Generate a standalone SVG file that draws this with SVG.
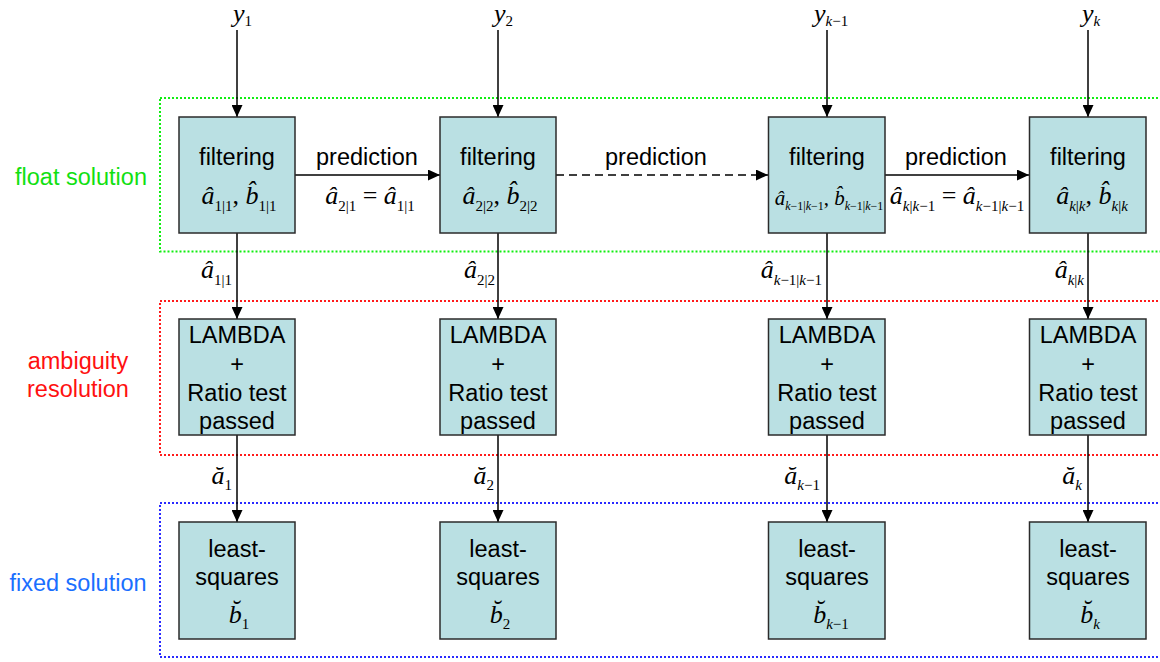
<svg xmlns="http://www.w3.org/2000/svg" width="1160" height="662" viewBox="0 0 1160 662">
<style>
.box{fill:#bae0e3;stroke:#2b2b2b;stroke-width:1.5}
.t{font-family:"Liberation Sans",Arial,sans-serif;font-size:23.5px;fill:#000;text-anchor:middle}
.m{font-family:"Liberation Serif","Times New Roman",serif;font-size:26px;fill:#000}
.sm{font-size:21px}
.mid{text-anchor:middle}
.end{text-anchor:end}
.i{font-style:italic}
.s{font-size:15px;font-style:normal}
.s2{font-size:12px;font-style:normal}
.ln{stroke:#000;stroke-width:1.5;fill:none}
.dash{stroke-dasharray:8 5}
.zone{fill:none;stroke-width:2;stroke-dasharray:2 2}
.lab{font-family:"Liberation Sans",Arial,sans-serif;font-size:23.5px;text-anchor:middle}
</style>
<defs>
<marker id="ah" markerUnits="userSpaceOnUse" markerWidth="12" markerHeight="11" refX="12" refY="5.5" orient="auto">
<path d="M0,0 L12,5.5 L0,11 z" fill="#000"/>
</marker>
</defs>
<rect width="1160" height="662" fill="#fff"/>

<g id="zones">
<rect class="zone" x="160" y="98" width="1010" height="153.5" stroke="#11ee11"/>
<rect class="zone" x="160" y="301" width="1010" height="154" stroke="#ff1a1a"/>
<rect class="zone" x="160" y="503" width="1010" height="154" stroke="#2a2aff"/>
<text class="lab" x="81" y="185" fill="#11e011">float solution</text>
<text class="lab" x="78" y="369" fill="#ff1010">ambiguity</text>
<text class="lab" x="78" y="397" fill="#ff1010">resolution</text>
<text class="lab" x="78" y="591" fill="#1a6fff">fixed solution</text>
</g>

<g id="connectors">
<line class="ln" x1="237" y1="30" x2="237" y2="117" marker-end="url(#ah)"/>
<line class="ln" x1="498" y1="30" x2="498" y2="117" marker-end="url(#ah)"/>
<line class="ln" x1="827" y1="30" x2="827" y2="117" marker-end="url(#ah)"/>
<line class="ln" x1="1088" y1="30" x2="1088" y2="117" marker-end="url(#ah)"/>
<line class="ln" x1="295" y1="175" x2="440" y2="175" marker-end="url(#ah)"/>
<line class="ln dash" x1="556" y1="175" x2="768" y2="175" marker-end="url(#ah)"/>
<line class="ln" x1="885" y1="175" x2="1029" y2="175" marker-end="url(#ah)"/>
<line class="ln" x1="237" y1="233" x2="237" y2="319" marker-end="url(#ah)"/>
<line class="ln" x1="498" y1="233" x2="498" y2="319" marker-end="url(#ah)"/>
<line class="ln" x1="827" y1="233" x2="827" y2="319" marker-end="url(#ah)"/>
<line class="ln" x1="1088" y1="233" x2="1088" y2="319" marker-end="url(#ah)"/>
<line class="ln" x1="237" y1="435" x2="237" y2="522" marker-end="url(#ah)"/>
<line class="ln" x1="498" y1="435" x2="498" y2="522" marker-end="url(#ah)"/>
<line class="ln" x1="827" y1="435" x2="827" y2="522" marker-end="url(#ah)"/>
<line class="ln" x1="1088" y1="435" x2="1088" y2="522" marker-end="url(#ah)"/>

<text class="m i" x="233" y="22">y<tspan class="s" dy="4">1</tspan></text>
<text class="m i" x="494" y="22">y<tspan class="s" dy="4">2</tspan></text>
<text class="m i" x="814" y="22">y<tspan dy="4" font-size="15px">k</tspan><tspan class="s">−1</tspan></text>
<text class="m i" x="1082" y="22">y<tspan dy="4" font-size="15px">k</tspan></text>

<text class="t" x="367" y="165">prediction</text>
<text class="t" x="656" y="165">prediction</text>
<text class="t" x="956" y="165">prediction</text>
<text class="m mid" x="370" y="204"><tspan class="i">â</tspan><tspan class="s" dy="7">2|1</tspan><tspan dy="-7"> = </tspan><tspan class="i">â</tspan><tspan class="s" dy="7">1|1</tspan></text>
<text class="m mid" x="957" y="204"><tspan class="i">â</tspan><tspan dy="7" font-size="15px" class="i">k</tspan><tspan class="s">|</tspan><tspan font-size="15px" class="i">k</tspan><tspan class="s">−1</tspan><tspan dy="-7"> = </tspan><tspan class="i">â</tspan><tspan dy="7" font-size="15px" class="i">k</tspan><tspan class="s">−1|</tspan><tspan font-size="15px" class="i">k</tspan><tspan class="s">−1</tspan></text>

<text class="m end" x="232" y="278"><tspan class="i">â</tspan><tspan class="s" dy="7">1|1</tspan></text>
<text class="m end" x="495" y="278"><tspan class="i">â</tspan><tspan class="s" dy="7">2|2</tspan></text>
<text class="m end" x="822" y="278"><tspan class="i">â</tspan><tspan dy="7" font-size="15px" class="i">k</tspan><tspan class="s">−1|</tspan><tspan font-size="15px" class="i">k</tspan><tspan class="s">−1</tspan></text>
<text class="m end" x="1084" y="278"><tspan class="i">â</tspan><tspan dy="7" font-size="15px" class="i">k</tspan><tspan class="s">|</tspan><tspan font-size="15px" class="i">k</tspan></text>

<text class="m end" x="232" y="484"><tspan class="i">ă</tspan><tspan class="s" dy="6">1</tspan></text>
<text class="m end" x="494" y="484"><tspan class="i">ă</tspan><tspan class="s" dy="6">2</tspan></text>
<text class="m end" x="820" y="484"><tspan class="i">ă</tspan><tspan dy="6" font-size="15px" class="i">k</tspan><tspan class="s">−1</tspan></text>
<text class="m end" x="1082" y="484"><tspan class="i">ă</tspan><tspan dy="6" font-size="15px" class="i">k</tspan></text>
</g>

<g id="filter1">
<rect class="box" x="179" y="117" width="116" height="116"/>
<text class="t" x="237" y="165">filtering</text>
<text class="m mid" x="239" y="204"><tspan class="i">â</tspan><tspan class="s" dy="7">1|1</tspan><tspan dy="-7">, </tspan><tspan class="i">b̂</tspan><tspan class="s" dy="7">1|1</tspan></text>
</g>
<g id="filter2">
<rect class="box" x="440" y="117" width="116" height="116"/>
<text class="t" x="498" y="165">filtering</text>
<text class="m mid" x="500" y="204"><tspan class="i">â</tspan><tspan class="s" dy="7">2|2</tspan><tspan dy="-7">, </tspan><tspan class="i">b̂</tspan><tspan class="s" dy="7">2|2</tspan></text>
</g>
<g id="filter3">
<rect class="box" x="768.5" y="117" width="116.5" height="116"/>
<text class="t" x="827" y="165">filtering</text>
<text class="m sm mid" x="829" y="205"><tspan class="i">â</tspan><tspan dy="5" font-size="12px" class="i">k</tspan><tspan class="s2">−1|</tspan><tspan font-size="12px" class="i">k</tspan><tspan class="s2">−1</tspan><tspan dy="-5">, </tspan><tspan class="i">b̂</tspan><tspan dy="5" font-size="12px" class="i">k</tspan><tspan class="s2">−1|</tspan><tspan font-size="12px" class="i">k</tspan><tspan class="s2">−1</tspan></text>
</g>
<g id="filter4">
<rect class="box" x="1029.5" y="117" width="116.5" height="116"/>
<text class="t" x="1088" y="165">filtering</text>
<text class="m mid" x="1092" y="204"><tspan class="i">â</tspan><tspan dy="7" font-size="15px" class="i">k</tspan><tspan class="s">|</tspan><tspan font-size="15px" class="i">k</tspan><tspan dy="-7">, </tspan><tspan class="i">b̂</tspan><tspan dy="7" font-size="15px" class="i">k</tspan><tspan class="s">|</tspan><tspan font-size="15px" class="i">k</tspan></text>
</g>

<g id="lambda1">
<rect class="box" x="179" y="319" width="116" height="116"/>
<text class="t" x="237" y="343">LAMBDA</text>
<text class="t" x="237" y="372">+</text>
<text class="t" x="237" y="401">Ratio test</text>
<text class="t" x="237" y="429">passed</text>
</g>
<g id="lambda2">
<rect class="box" x="440" y="319" width="116" height="116"/>
<text class="t" x="498" y="343">LAMBDA</text>
<text class="t" x="498" y="372">+</text>
<text class="t" x="498" y="401">Ratio test</text>
<text class="t" x="498" y="429">passed</text>
</g>
<g id="lambda3">
<rect class="box" x="768.5" y="319" width="116.5" height="116"/>
<text class="t" x="827" y="343">LAMBDA</text>
<text class="t" x="827" y="372">+</text>
<text class="t" x="827" y="401">Ratio test</text>
<text class="t" x="827" y="429">passed</text>
</g>
<g id="lambda4">
<rect class="box" x="1029.5" y="319" width="116.5" height="116"/>
<text class="t" x="1088" y="343">LAMBDA</text>
<text class="t" x="1088" y="372">+</text>
<text class="t" x="1088" y="401">Ratio test</text>
<text class="t" x="1088" y="429">passed</text>
</g>

<g id="ls1">
<rect class="box" x="179" y="522" width="116" height="117"/>
<text class="t" x="237" y="557">least-</text>
<text class="t" x="237" y="585">squares</text>
<text class="m mid" x="239" y="623"><tspan class="i">b̆</tspan><tspan class="s" dy="6">1</tspan></text>
</g>
<g id="ls2">
<rect class="box" x="440" y="522" width="116" height="117"/>
<text class="t" x="498" y="557">least-</text>
<text class="t" x="498" y="585">squares</text>
<text class="m mid" x="500" y="623"><tspan class="i">b̆</tspan><tspan class="s" dy="6">2</tspan></text>
</g>
<g id="ls3">
<rect class="box" x="768.5" y="522" width="116.5" height="117"/>
<text class="t" x="827" y="557">least-</text>
<text class="t" x="827" y="585">squares</text>
<text class="m mid" x="831" y="623"><tspan class="i">b̆</tspan><tspan dy="6" font-size="15px" class="i">k</tspan><tspan class="s">−1</tspan></text>
</g>
<g id="ls4">
<rect class="box" x="1029.5" y="522" width="116.5" height="117"/>
<text class="t" x="1088" y="557">least-</text>
<text class="t" x="1088" y="585">squares</text>
<text class="m mid" x="1090" y="623"><tspan class="i">b̆</tspan><tspan dy="6" font-size="15px" class="i">k</tspan></text>
</g>
</svg>
